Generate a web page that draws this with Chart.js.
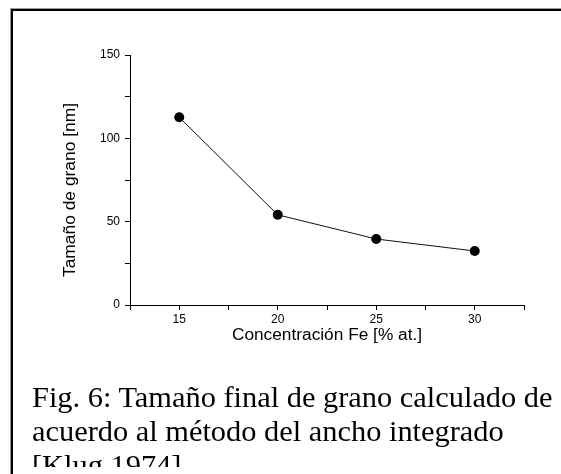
<!DOCTYPE html>
<html>
<head>
<meta charset="utf-8">
<script src="https://cdn.jsdelivr.net/npm/chart.js@4/dist/chart.umd.min.js"></script>
<style>
  html, body { margin: 0; padding: 0; background: #fff; }
  html { overflow: hidden; }
  body { width: 561px; height: 474px; position: relative; overflow: hidden; }
  #frameOuter { position: absolute; left: 10px; top: 8px; width: 600px; height: 520px;
    border-left: 1px solid #9a9a9a; border-top: 1px solid #9a9a9a; }
  #frameInner { position: absolute; left: 0; top: 0; right: 0; bottom: 0;
    border-left: 2px solid #000; border-top: 2px solid #000; }
  #c { position: absolute; left: 0; top: 0; }
  #yTitle { position: absolute; left: 68.5px; top: 190px; transform: translate(-50%, -50%) rotate(-90deg);
    font-family: "Liberation Sans", Arial, sans-serif; font-size: 17.4px; line-height: 20px;
    color: #000; white-space: nowrap; }
  #caption { position: absolute; left: 32px; top: 380.4px; width: 529px; height: 86.6px; overflow: hidden;
    font-family: "Liberation Serif", "Times New Roman", serif; font-size: 30.4px; line-height: 34px;
    color: #000; white-space: nowrap; }
</style>
</head>
<body>
<div id="frameOuter"><div id="frameInner"></div></div>
<canvas id="c" width="561" height="474"></canvas>
<div id="yTitle"></div>
<div id="caption">Fig. 6: Tamaño final de grano calculado de<br>acuerdo al método del ancho integrado<br>[Klug 1974]</div>
<script>
const concentrations = [15, 20, 25, 30];
const grainSize = [112.6, 54.1, 39.6, 32.4];
const xTitle = 'Concentración Fe [% at.]';
const yTitle = 'Tamaño de grano [nm]';
const xMin = 12.5, xMax = 32.5, xStep = 2.5, xLabelEvery = 5;
const yMin = 0, yMax = 150, yStep = 25, yLabelEvery = 50;

document.getElementById('yTitle').textContent = yTitle;

const points = concentrations.map((x, i) => ({ x: x, y: grainSize[i] }));
const tickFont = { family: "'Liberation Sans', Arial, sans-serif", size: 12 };

new Chart(document.getElementById('c'), {
  type: 'scatter',
  data: {
    datasets: [{
      data: points,
      showLine: true,
      borderColor: '#111',
      borderWidth: 1,
      backgroundColor: '#000',
      pointBackgroundColor: '#000',
      pointBorderColor: '#000',
      pointRadius: 5,
      pointBorderWidth: 0
    }]
  },
  options: {
    responsive: false,
    animation: false,
    devicePixelRatio: 1,
    plugins: { legend: { display: false }, tooltip: { enabled: false } },
    layout: { padding: { left: 58.3, top: 55, right: 37, bottom: 128.6 } },
    scales: {
      x: {
        type: 'linear', min: xMin, max: xMax,
        afterFit: s => { s.height = 40.4; },
        ticks: {
          stepSize: xStep, autoSkip: false, maxRotation: 0, padding: 2,
          color: '#000', font: tickFont,
          callback: v => (Math.abs(v % xLabelEvery) < 1e-9 ? String(v) : '')
        },
        grid: { drawOnChartArea: false, drawTicks: true, tickLength: 5, tickColor: '#000', color: '#000' },
        border: { display: true, color: '#000', width: 1 },
        title: { display: true, text: xTitle, color: '#000', padding: 0,
          font: { family: "'Liberation Sans', Arial, sans-serif", size: 17.3 } }
      },
      y: {
        type: 'linear', min: yMin, max: yMax,
        afterFit: s => { s.width = 71.7; },
        ticks: {
          stepSize: yStep, autoSkip: false, padding: 5,
          color: '#000', font: tickFont,
          callback: v => (Math.abs(v % yLabelEvery) < 1e-9 ? String(v) : '')
        },
        grid: { drawOnChartArea: false, drawTicks: true, tickLength: 5, tickColor: '#000', color: '#000' },
        border: { display: true, color: '#000', width: 1 },
        title: { display: false }
      }
    }
  }
});
</script>
</body>
</html>
